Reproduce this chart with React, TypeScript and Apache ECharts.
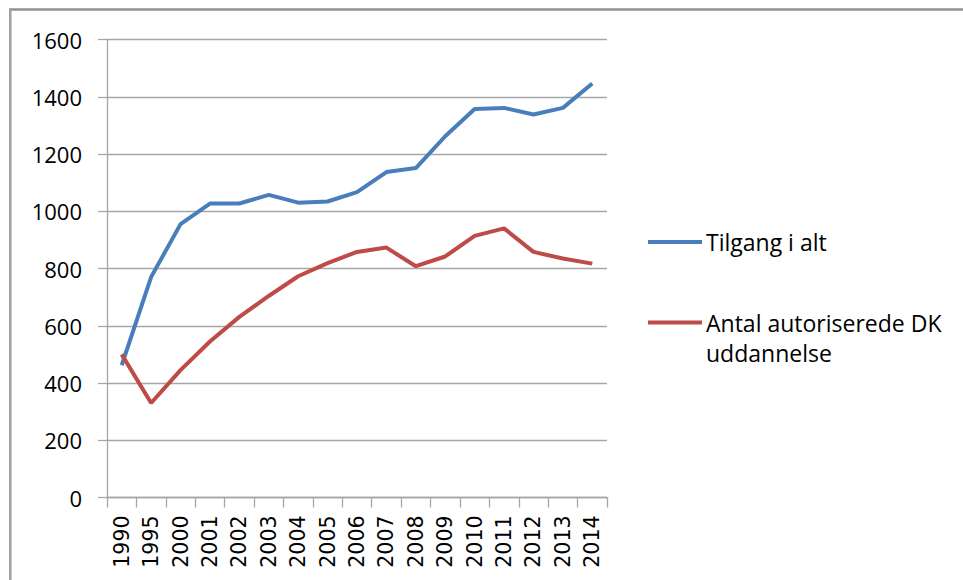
import React, { useEffect, useRef } from "react";
import * as echarts from "echarts";

const years = ["1990", "1995", "2000", "2001", "2002", "2003", "2004", "2005", "2006", "2007", "2008", "2009", "2010", "2011", "2012", "2013", "2014"];
const tilgang = [462, 770, 955, 1027, 1027, 1057, 1030, 1034, 1067, 1137, 1151, 1262, 1357, 1361, 1338, 1361, 1446];
const autoriserede = [500, 330, 445, 545, 631, 704, 773, 819, 858, 873, 808, 842, 914, 940, 858, 835, 817];
const seriesNames = ["Tilgang i alt", "Antal autoriserede DK\nuddannelse"];
const seriesColors = ["#4a7ebb", "#be4b48"];

export default function App() {
  const ref = useRef<HTMLDivElement>(null);
  useEffect(() => {
    if (!ref.current) return;
    const chart = echarts.init(ref.current, null, { renderer: "svg" });
    const gridColor = "#a6a6a6";
    chart.setOption({
      animation: false,
      backgroundColor: "#ffffff",
      grid: { left: 107, right: 356, top: 39.5, bottom: 82.5, containLabel: false },
      xAxis: {
        type: "category",
        data: years,
        boundaryGap: true,
        axisLine: { show: true, lineStyle: { color: gridColor, width: 1.3 } },
        axisTick: { show: true, length: 10, alignWithLabel: false, lineStyle: { color: gridColor, width: 1.3 } },
        axisLabel: {
          rotate: 90,
          margin: 18,
          interval: 0,
          color: "#000",
          fontFamily: "DejaVu Sans",
          fontSize: 20.5,
        },
      },
      yAxis: {
        type: "value",
        min: 0,
        max: 1600,
        interval: 200,
        axisLine: { show: true, lineStyle: { color: gridColor, width: 1.3 } },
        axisTick: { show: true, length: 9, lineStyle: { color: gridColor, width: 1.3 } },
        splitLine: { show: true, lineStyle: { color: gridColor, width: 1.3 } },
        axisLabel: {
          margin: 25,
          color: "#000",
          fontFamily: "Open Sans",
          fontSize: 22,
          formatter: (v: number) => String(v),
        },
      },
      series: [
        {
          type: "line",
          name: seriesNames[0],
          data: tilgang,
          symbol: "none",
          lineStyle: { color: seriesColors[0], width: 4 },
          itemStyle: { color: seriesColors[0] },
        },
        {
          type: "line",
          name: seriesNames[1],
          data: autoriserede,
          symbol: "none",
          lineStyle: { color: seriesColors[1], width: 4 },
          itemStyle: { color: seriesColors[1] },
        },
      ],
      graphic: [
        { type: "line", shape: { x1: 9, y1: 9.5, x2: 963, y2: 9.5 }, style: { stroke: "#8f8f8f", lineWidth: 2.5 } },
        { type: "line", shape: { x1: 10.3, y1: 9, x2: 10.3, y2: 580 }, style: { stroke: "#a0a0a0", lineWidth: 2.5 } },
        { type: "line", shape: { x1: 648, y1: 242, x2: 702, y2: 242 }, style: { stroke: seriesColors[0], lineWidth: 4 } },
        {
          type: "text",
          x: 706,
          y: 242,
          style: { text: seriesNames[0], fill: "#000", font: "23px 'Open Sans'", verticalAlign: "middle", align: "left" },
        },
        { type: "line", shape: { x1: 648, y1: 322.5, x2: 702, y2: 322.5 }, style: { stroke: seriesColors[1], lineWidth: 4 } },
        {
          type: "text",
          x: 706,
          y: 307.5,
          style: { text: seriesNames[1], fill: "#000", font: "23px 'Open Sans'", lineHeight: 30, verticalAlign: "top", align: "left" },
        },
      ],
    });
    return () => chart.dispose();
  }, []);
  return <div ref={ref} style={{ position: "fixed", left: 0, top: 0, width: 963, height: 580 }} />;
}
